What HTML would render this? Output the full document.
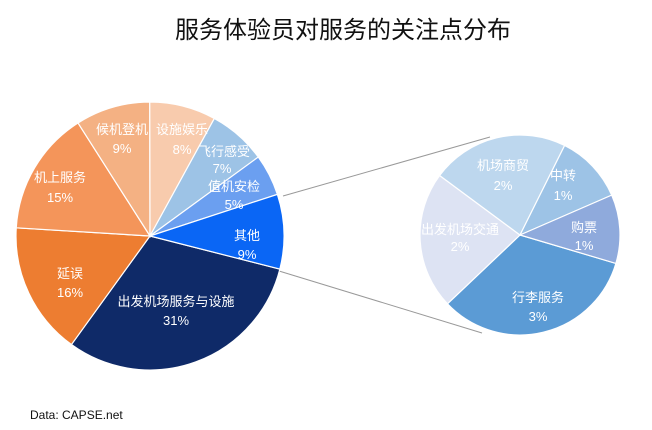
<!DOCTYPE html>
<html><head><meta charset="utf-8"><style>
body{margin:0;background:#fff;}
svg{display:block;font-family:"Liberation Sans","Noto Sans CJK SC",sans-serif;}
.l{fill:#fff;font-size:13px;text-anchor:middle;}
</style></head><body>
<svg id="s" width="652" height="430" viewBox="0 0 652 430">
<text x="343" y="38" font-size="24" text-anchor="middle" fill="#111">服务体验员对服务的关注点分布</text>
<line x1="283" y1="196" x2="490" y2="137" stroke="#999" stroke-width="1"/>
<line x1="279" y1="271" x2="482" y2="333" stroke="#999" stroke-width="1"/>
<g id="p"></g>
<g id="t">
<text class="l" x="122" y="134">候机登机</text><text class="l" x="122" y="153">9%</text>
<text class="l" x="182" y="134">设施娱乐</text><text class="l" x="182" y="154">8%</text>
<text class="l" x="224" y="156">飞行感受</text><text class="l" x="222" y="173">7%</text>
<text class="l" x="234" y="191">值机安检</text><text class="l" x="234" y="209">5%</text>
<text class="l" x="247" y="240">其他</text><text class="l" x="247" y="259">9%</text>
<text class="l" x="60" y="182">机上服务</text><text class="l" x="60" y="202">15%</text>
<text class="l" x="70" y="278">延误</text><text class="l" x="70" y="297">16%</text>
<text class="l" x="176" y="306">出发机场服务与设施</text><text class="l" x="176" y="325">31%</text>
<text class="l" x="503" y="170">机场商贸</text><text class="l" x="503" y="190">2%</text>
<text class="l" x="563" y="180">中转</text><text class="l" x="563" y="200">1%</text>
<text class="l" x="584" y="232">购票</text><text class="l" x="584" y="250">1%</text>
<text class="l" x="460" y="234">出发机场交通</text><text class="l" x="460" y="251">2%</text>
<text class="l" x="538" y="302">行李服务</text><text class="l" x="538" y="321">3%</text>
</g>
<text x="30" y="419" font-size="12" fill="#111">Data: CAPSE.net</text>
</svg>
<script>
function pie(cx,cy,r,start,vals,cols){
 var tot=vals.reduce((a,b)=>a+b,0),a=start*Math.PI/180,h='';
 for(var i=0;i<vals.length;i++){
  var b=a+vals[i]/tot*2*Math.PI;
  var x1=cx+r*Math.cos(a),y1=cy+r*Math.sin(a),x2=cx+r*Math.cos(b),y2=cy+r*Math.sin(b);
  h+='<path d="M'+cx+' '+cy+'L'+x1+' '+y1+'A'+r+' '+r+' 0 '+((b-a)>Math.PI?1:0)+' 1 '+x2+' '+y2+'Z" fill="'+cols[i]+'" stroke="#fff" stroke-width="1.2"/>';
  a=b;}
 return h;}
var g=document.getElementById('p');
g.innerHTML=pie(150,236,134,14.3,[31,16,15,9,8,7,5,9],['#0f2a68','#ed7d31','#f4955a','#f4b183','#f8cbad','#9dc3e6','#6b9ff0','#0a66f5'])
 +pie(520,235,100,16.5,[3,2,2,1,1],['#5b9bd5','#dde3f3','#bdd7ee','#9dc3e6','#8faadc']);
</script>
</body></html>
